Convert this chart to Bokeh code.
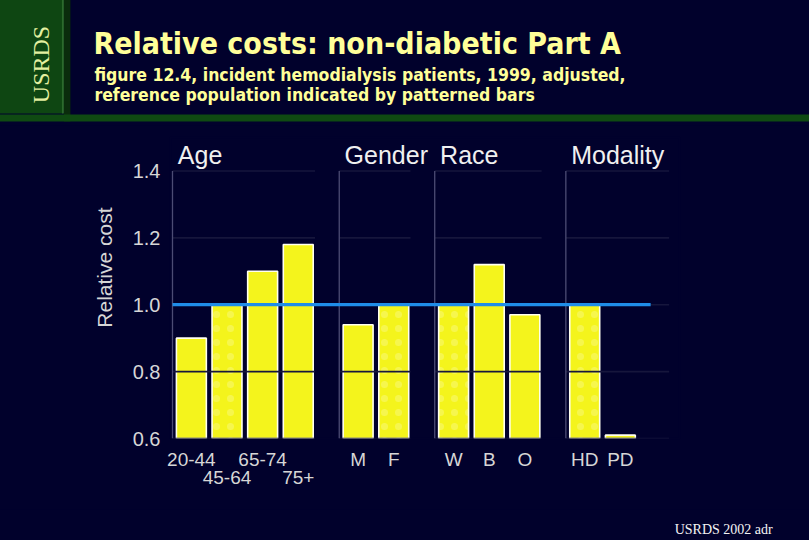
import math
from bokeh.plotting import figure
from bokeh.models import Range1d, FixedTicker, ColumnDataSource, Title
from bokeh.layouts import column
from bokeh.core.properties import value
from bokeh.embed import file_html
from bokeh.resources import INLINE

# ---------------- data ----------------
groups = ["Age", "Gender", "Race", "Modality"]
age_labels = ["20-44", "45-64", "65-74", "75+"]
age_values = [0.90, 1.00, 1.10, 1.18]
gender_labels = ["M", "F"]
gender_values = [0.94, 1.00]
race_labels = ["W", "B", "O"]
race_values = [1.00, 1.12, 0.97]
modality_labels = ["HD", "PD"]
modality_values = [1.00, 0.61]
reference_labels = ["45-64", "F", "W", "HD"]   # patterned (reference) bars
y_ticks = [0.6, 0.8, 1.0, 1.2, 1.4]
y_tick_labels = ["0.6", "0.8", "1.0", "1.2", "1.4"]
reference_level = 1.0

title_text = "Relative costs: non-diabetic Part A"
subtitle_lines = ["figure 12.4, incident hemodialysis patients, 1999, adjusted,",
                  "reference population indicated by patterned bars"]
side_text = "USRDS"
footer_text = "USRDS 2002 adr"
y_label = "Relative cost"

# ---------------- styles ----------------
BG = "#01012c"
YELLOW = "#f4f41c"
SANS = "Liberation Sans"
NARROW = "'Liberation Sans Narrow', 'DejaVu Sans Condensed', sans-serif"
SERIF = "Liberation Serif"
W = 811          # one extra pixel: every figure is pulled 1px up/left to hide edge seams
TOTAL_H = 540

group_labels = [age_labels, gender_labels, race_labels, modality_labels]
group_values = [age_values, gender_values, race_values, modality_values]

# ---------------- layout computation ----------------
GAP = 0.68
EXTRA = [0.0, 0.0, 0.0, 0.9]
OFF = 0.53
BAR_W = 0.84
xs, tops, hatch, names = [], [], [], []
overrides = {}
panel_starts, panel_ends = [], []
start = 0.0
for gi, (labs_g, vals_g) in enumerate(zip(group_labels, group_values)):
    panel_starts.append(start)
    for i, (lab, v) in enumerate(zip(labs_g, vals_g)):
        xc = round(start + OFF + i, 3)
        xs.append(xc)
        tops.append(v)
        names.append(lab)
        hatch.append("dot" if lab in reference_labels else " ")
        overrides[xc] = ("\n" + lab) if (gi == 0 and i % 2 == 1) else lab
    end = start + len(labs_g) + EXTRA[gi]
    panel_ends.append(end)
    start = end + GAP


def blank(width, height, xr, yr):
    f = figure(width=width, height=height, x_range=xr, y_range=yr,
               output_backend="svg", toolbar_location=None,
               x_axis_location=None, y_axis_location=None, min_border=0)
    f.frame_align = False
    f.margin = (-1, 0, 0, -1)
    f.grid.visible = False
    f.outline_line_color = None
    f.background_fill_color = BG
    f.border_fill_color = BG
    return f

# ---------------- header (page pixels -1..126) ----------------
HEAD_H = 127
head = blank(W, HEAD_H, Range1d(-1, 810), Range1d(126, -1))
head.quad(left=[-20], right=[62.5], top=[-20], bottom=[113], fill_color="#0e4612", line_color=None)
head.quad(left=[61.5], right=[63.5], top=[-20], bottom=[113], fill_color="#2c6a2c", line_color=None)
head.quad(left=[63.5], right=[70], top=[-20], bottom=[121], fill_color="#0a2c0c", line_color=None)
head.quad(left=[-20], right=[900], top=[114], bottom=[121], fill_color="#0f4a12", line_color=None)
head.text(x=[41], y=[64], text=[side_text], angle=math.pi / 2, text_align="center",
          text_baseline="middle", text_font=value(SERIF), text_font_size="24px",
          text_color="#e4f0a0")
head.text(x=[93], y=[43], text=[title_text], text_align="left", text_baseline="alphabetic",
          text_font=value(NARROW), text_font_style="bold", text_font_size="30px",
          text_color="#ffff99")
head.text(x=[94, 94], y=[74, 94], text=subtitle_lines, text_align="left",
          text_baseline="alphabetic", text_font=value(NARROW), text_font_style="bold",
          text_font_size="17.5px", text_color="#ffff99")

# ---------------- chart (page pixels 125..510) ----------------
CH_H = 385
p = figure(width=W, height=CH_H, x_range=Range1d(-0.056, 14.23), y_range=Range1d(0.6, 1.5),
           output_backend="svg", toolbar_location=None,
           min_border_left=171, min_border_right=130, min_border_top=12, min_border_bottom=72)
p.frame_align = False
p.margin = (-1, 0, 0, -1)
p.grid.visible = False
p.outline_line_color = BG
p.outline_line_width = 2
p.background_fill_color = BG
p.border_fill_color = BG

src = ColumnDataSource(dict(x=xs, top=tops, hatch=hatch, name=names))
p.vbar(x="x", top="top", bottom=0.6, width=BAR_W, source=src, fill_color=YELLOW,
       line_color="#fffff0", line_width=1.6, hatch_pattern="hatch", hatch_color="#fdfdc0",
       hatch_alpha=0.3, hatch_scale=14, hatch_weight=3)

# panel grid lines (drawn over the bars) and panel left lines
gx0, gx1, gy = [], [], []
for s, e in zip(panel_starts, panel_ends):
    for t in y_ticks:
        gx0.append(s)
        gx1.append(e)
        gy.append(t)
p.segment(x0=gx0, y0=gy, x1=gx1, y1=gy, line_color="#16163c", line_width=1.6)
p.segment(x0=panel_starts, y0=[y_ticks[0]] * len(panel_starts), x1=panel_starts,
          y1=[y_ticks[-1]] * len(panel_starts), line_color="#4c4c74", line_width=1.3)

# reference line
p.segment(x0=[0], y0=[reference_level], x1=[panel_starts[-1] + 2.38], y1=[reference_level],
          line_color="#1f8de8", line_width=3.2)

# group titles
p.text(x=[s + 0.15 for s in panel_starts], y=[1.449] * len(groups), text=groups,
       text_align="left", text_baseline="alphabetic", text_font=value(SANS),
       text_font_size="25px", text_color="#f0f0f0")

# axes
p.yaxis.ticker = FixedTicker(ticks=y_ticks)
p.yaxis.major_label_overrides = {t: l for t, l in zip(y_ticks, y_tick_labels)}
p.xaxis.ticker = FixedTicker(ticks=xs)
p.xaxis.major_label_overrides = overrides
for ax in (p.xaxis, p.yaxis):
    ax.axis_line_color = None
    ax.major_tick_line_color = None
    ax.minor_tick_line_color = None
    ax.major_tick_out = 0
    ax.major_tick_in = 0
    ax.major_label_text_font = SANS
    ax.major_label_text_color = "#d6d6d6"
p.yaxis.major_label_text_font_size = "20px"
p.yaxis.major_label_standoff = 10
p.xaxis.major_label_text_font_size = "19px"
p.xaxis.major_label_text_line_height = 0.9
p.xaxis.major_label_standoff = 10

p.add_layout(Title(text=y_label, align="right", offset=70, text_font_size="21px",
                   text_font_style="normal", text_font=SANS, text_color="#d6d6d6",
                   standoff=28), "left")

# ---------------- footer (page pixels 509..541) ----------------
FOOT_H = 32
foot = blank(W, FOOT_H, Range1d(-1, 810), Range1d(541, 509))
foot.text(x=[675], y=[529], text=[footer_text], text_align="left", text_baseline="alphabetic",
          text_font=value(SERIF), text_font_size="14px", text_color="#f4f4f4")

layout = column(head, p, foot, spacing=0)
open("out.html", "w").write(file_html(layout, INLINE))
